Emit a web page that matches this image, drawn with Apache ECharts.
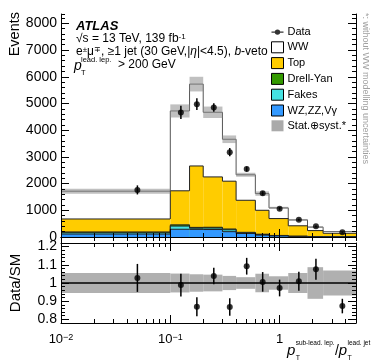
<!DOCTYPE html>
<html>
<head>
<meta charset="utf-8">
<script src="https://cdn.jsdelivr.net/npm/echarts@6/dist/echarts.min.js"></script>
<style>
  html, body { margin: 0; padding: 0; background: #fff; }
  #chart { width: 374px; height: 363px; }
</style>
</head>
<body>
<div id="chart"></div>
<script>
// bin edges of pT(sub-lead. lep.) / pT(lead. jet)
var binEdges = [0, 0.1, 0.15, 0.2, 0.3, 0.4, 0.6, 0.8, 1.2, 1.8, 2.5, 5];
// predictions per bin (events)
var wzVals    = [110, 290, 285, 280, 200, 130, 70, 40, 20, 10, 6];
var fakesVals = [50, 120, 45, 55, 70, 25, 20, 10, 6, 3, 2];
var dyVals    = [30, 45, 30, 30, 30, 20, 15, 8, 4, 2, 1];
var topVals   = [485, 1275, 2300, 1885, 1790, 1200, 895, 632, 390, 225, 131];
var wwVals    = [1040, 2990, 3065, 2420, 1570, 955, 625, 400, 220, 130, 65];
// data
var dataVals  = [1763, 4665, 4975, 4850, 3175, 2545, 1635, 1060, 646, 398, 179];
var dataErr   = [170, 250, 220, 160, 156, 94, 75, 60, 40, 30, 20];
var ratioErr  = [0.077, 0.062, 0.052, 0.046, 0.048, 0.046, 0.054, 0.046, 0.052, 0.058, 0.04];
// relative stat+syst uncertainty of the prediction
var mcRelUnc  = [0.055, 0.052, 0.048, 0.046, 0.039, 0.032, 0.051, 0.037, 0.055, 0.087, 0.069];
// ticks
var eventTicks = [0, 1000, 2000, 3000, 4000, 5000, 6000, 7000, 8000];
var ratioTicks = [0.8, 0.9, 1, 1.1, 1.2];
var xMajorTicks = [0.01, 0.1, 1];
var xMinorTicks = [0.02, 0.03, 0.04, 0.05, 0.06, 0.07, 0.08, 0.09,
                   0.2, 0.3, 0.4, 0.5, 0.6, 0.7, 0.8, 0.9, 2, 3, 4, 5];

var X_MIN = 0.01, X_MAX = 5;
var EV_MAX = 8350, R_MIN = 0.78, R_MAX = 1.22;
var FONT = "'Liberation Sans', Arial, Helvetica, sans-serif";

var nBins = binEdges.length - 1;
var centers = [];
for (var i = 0; i < nBins; i++) centers.push((binEdges[i] + binEdges[i + 1]) / 2);

// cumulative stack, bottom first
var layers = [
  { name: 'WZ,ZZ,V\u03b3', vals: wzVals, color: '#3399ff' },
  { name: 'Fakes', vals: fakesVals, color: '#44e2e2' },
  { name: 'Drell-Yan', vals: dyVals, color: '#339900' },
  { name: 'Top', vals: topVals, color: '#ffcc00' },
  { name: 'WW', vals: wwVals, color: '#ffffff' }
];
var cum = centers.map(function () { return 0; });
layers.forEach(function (l) {
  l.top = cum.map(function (c, i) { return c + l.vals[i]; });
  cum = l.top;
});
var mcTotal = cum;

var chart = echarts.init(document.getElementById('chart'), null, { renderer: 'canvas' });

function binX(api, i) {
  var x0 = api.coord([Math.max(binEdges[i], X_MIN), 1])[0];
  var x1 = api.coord([binEdges[i + 1], 1])[0];
  return [x0, x1];
}

// THStack style: each cumulative histogram filled from zero, biggest first
function stackSeries(l) {
  return {
    name: l.name,
    type: 'custom',
    xAxisIndex: 0, yAxisIndex: 0,
    itemStyle: { color: l.color },
    data: l.top.map(function (v, i) { return [centers[i], v]; }),
    renderItem: function (params, api) {
      var i = params.dataIndex;
      var xs = binX(api, i);
      var y0 = api.coord([1, 0])[1];
      var yt = api.coord([1, l.top[i]])[1];
      var pts = [];
      if (i > 0) pts.push([xs[0], api.coord([1, l.top[i - 1]])[1]]);
      pts.push([xs[0], yt], [xs[1], yt]);
      return {
        type: 'group',
        children: [
          { type: 'rect', shape: { x: xs[0], y: yt, width: xs[1] - xs[0], height: y0 - yt },
            style: { fill: l.color } },
          { type: 'polyline', shape: { points: pts },
            style: { stroke: l.name === 'WW' ? '#555' : '#222', lineWidth: 1, fill: null } }
        ]
      };
    }
  };
}

function bandSeries(name, xi, yi, centerVals, halfVals, color) {
  return {
    name: name,
    type: 'custom',
    xAxisIndex: xi, yAxisIndex: yi,
    itemStyle: { color: color },
    data: centerVals.map(function (v, i) { return [centers[i], v, halfVals[i]]; }),
    renderItem: function (params, api) {
      var i = params.dataIndex;
      var xs = binX(api, i);
      var c = api.value(1), h = api.value(2);
      var ya = api.coord([1, c + h])[1];
      var yb = api.coord([1, c - h])[1];
      return { type: 'rect', shape: { x: xs[0], y: ya, width: xs[1] - xs[0], height: yb - ya },
        style: { fill: color } };
    }
  };
}

function errSeries(name, xi, yi, vals, errs) {
  return {
    name: name,
    type: 'custom',
    xAxisIndex: xi, yAxisIndex: yi,
    z: 4,
    data: vals.map(function (v, i) { return [centers[i], v, errs[i]]; }),
    renderItem: function (params, api) {
      var x = api.value(0), y = api.value(1), e = api.value(2);
      var a = api.coord([x, y - e]), b = api.coord([x, y + e]);
      return { type: 'line', shape: { x1: a[0], y1: a[1], x2: b[0], y2: b[1] },
        style: { stroke: '#000', lineWidth: 1.5 } };
    }
  };
}

var ratioVals = dataVals.map(function (v, i) { return v / mcTotal[i]; });
var mcAbsUnc = mcTotal.map(function (v, i) { return v * mcRelUnc[i]; });
var ones = centers.map(function () { return 1; });

function logLabel(v) {
  var e = Math.round(Math.log(v) / Math.LN10);
  if (e === 0) return '1';
  return '10{sup|' + (e < 0 ? '\u2212' : '') + Math.abs(e) + '}';
}

function xAxesFor(grid, withLabels) {
  function ax(pos, major) {
    return {
      type: 'log', logBase: 10, gridIndex: grid, position: pos,
      min: X_MIN, max: X_MAX, z: 10,
      splitLine: { show: false },
      axisLine: { show: major, lineStyle: { color: '#000', width: 1 } },
      axisTick: { show: true, inside: true, length: major ? 8 : 4,
        customValues: major ? xMajorTicks : xMinorTicks,
        lineStyle: { color: '#000', width: 1 } },
      axisLabel: {
        show: withLabels && major && pos === 'bottom',
        customValues: xMajorTicks,
        formatter: logLabel,
        fontFamily: FONT, fontSize: 13, color: '#000', margin: 10,
        rich: { sup: { fontFamily: FONT, fontSize: 9, verticalAlign: 'top', lineHeight: 9, padding: [0, 0, 6, 0] } }
      }
    };
  }
  return [ax('bottom', true), ax('bottom', false), ax('top', true), ax('top', false)];
}

function yAxesFor(grid, min, max, majors, minorStep) {
  function ax(pos, major) {
    var a = {
      type: 'value', gridIndex: grid, position: pos, min: min, max: max, z: 10,
      splitLine: { show: false },
      axisLine: { show: major, lineStyle: { color: '#000', width: 1 } },
      axisTick: { show: true, inside: true, length: major ? 8 : 4,
        lineStyle: { color: '#000', width: 1 } },
      axisLabel: { show: false }
    };
    if (major) {
      a.axisTick.customValues = majors;
      a.axisLabel = { show: pos === 'left', customValues: majors, fontFamily: FONT,
        fontSize: 14, color: '#000', margin: 4,
        formatter: function (v) { return String(v); } };
    } else {
      a.interval = minorStep;
    }
    return a;
  }
  return [ax('left', true), ax('left', false), ax('right', true), ax('right', false)];
}

var stackOrder = layers.slice().reverse();
var series = stackOrder.map(stackSeries);
series.push(bandSeries('Stat.\u2295syst.*', 0, 0, mcTotal, mcAbsUnc, 'rgba(140,140,140,0.55)'));
series.push(errSeries('dataErr', 0, 0, dataVals, dataErr));
series.push({
  name: 'Data', type: 'scatter', xAxisIndex: 0, yAxisIndex: 0, z: 5,
  symbol: 'circle', symbolSize: 6, itemStyle: { color: '#000' },
  data: dataVals.map(function (v, i) { return [centers[i], v]; })
});
// ratio panel
series.push(bandSeries('ratioBand', 4, 4, ones, mcRelUnc, '#b0b0b0'));
series.push({
  name: 'unity', type: 'line', xAxisIndex: 4, yAxisIndex: 4, z: 3,
  symbol: 'none', lineStyle: { color: '#000', width: 1.5 },
  data: [[X_MIN, 1], [X_MAX, 1]]
});
series.push(errSeries('ratioErr', 4, 4, ratioVals, ratioErr));
series.push({
  name: 'ratio', type: 'scatter', xAxisIndex: 4, yAxisIndex: 4, z: 5,
  symbol: 'circle', symbolSize: 6, itemStyle: { color: '#000' },
  data: ratioVals.map(function (v, i) { return [centers[i], v]; })
});

var dataIcon = 'path://M0,0h0.01v0.01h-0.01z M0,10.99h0.01v0.01h-0.01z M0,5h12v1.2h-12z M8.7,5.6A2.7,2.7 0 1 1 3.3,5.6A2.7,2.7 0 1 1 8.7,5.6z';
var boxStyle = { borderColor: '#000', borderWidth: 1 };

// canvas text measure for hand-placed titles
var mctx = document.createElement('canvas').getContext('2d');
function tw(text, size, style) {
  mctx.font = (style || '') + ' ' + size + 'px ' + FONT;
  return mctx.measureText(text).width;
}

function txt(x, y, text, size, opts) {
  opts = opts || {};
  return {
    type: 'text', x: x, y: y, rotation: opts.rotation || 0, z: 20,
    style: {
      text: text, fill: opts.color || '#000',
      font: (opts.style || '') + ' ' + size + 'px ' + FONT,
      textAlign: opts.align || 'left', textVerticalAlign: opts.valign || 'middle',
      rich: opts.rich
    }
  };
}

var graphics = [];
// ATLAS label block
graphics.push(txt(76, 26, 'ATLAS', 13, { style: 'italic bold' }));
graphics.push(txt(76, 39, '\u221as = 13 TeV, 139 fb{sup|-1}', 12, {
  rich: { sup: { fontSize: 8, fontFamily: FONT, verticalAlign: 'top', padding: [0, 0, 5, 0] } }
}));
graphics.push(txt(76, 52, 'e{sup|\u00b1}\u03bc{sup|\u2213}, \u22651 jet (30 GeV,|{it|\u03b7}|<4.5), {it|b}-veto', 12, {
  rich: {
    sup: { fontSize: 8, fontFamily: FONT, verticalAlign: 'top', padding: [0, 0, 5, 0] },
    it: { fontSize: 12, fontFamily: FONT, fontStyle: 'italic' }
  }
}));
graphics.push(txt(74, 66, 'p', 14, { style: 'italic' }));
graphics.push(txt(81, 59.5, 'lead. lep.', 7.5));
graphics.push(txt(81, 72.5, 'T', 7.5));
graphics.push(txt(118, 65, '> 200 GeV', 12));

// y titles
graphics.push(txt(15, 12, 'Events', 14.5, { rotation: Math.PI / 2, align: 'right' }));
graphics.push(txt(16, 283, 'Data/SM', 15, { rotation: Math.PI / 2, align: 'center' }));

// x title
(function () {
  var x = 287, yb = 351;
  var sup1 = 'sub-lead. lep.', sup2 = 'lead. jet';
  graphics.push(txt(x, yb, 'p', 15, { style: 'italic' }));
  var xs = x + tw('p', 15, 'italic') + 0.3;
  graphics.push(txt(xs, yb + 7, 'T', 7));
  graphics.push(txt(xs, yb - 7.5, sup1, 6.5));
  x = xs + tw(sup1, 6.5) + 0.3;
  graphics.push(txt(x, yb, '/', 14));
  x += tw('/', 14);
  graphics.push(txt(x, yb, 'p', 15, { style: 'italic' }));
  xs = x + tw('p', 15, 'italic') + 0.3;
  graphics.push(txt(xs, yb + 7, 'T', 7));
  graphics.push(txt(xs, yb - 7.5, sup2, 6.5));
})();

// side note
graphics.push(txt(365, 13, '*: without WW modelling uncertainties', 9, {
  rotation: -Math.PI / 2, color: '#a0a0a0'
}));

var option = {
  animation: false,
  backgroundColor: '#fff',
  grid: [
    { left: 61, right: 18, top: 14, height: 223 },
    { left: 61, right: 18, top: 243, height: 80 }
  ],
  xAxis: xAxesFor(0, false).concat(xAxesFor(1, true)),
  yAxis: yAxesFor(0, 0, EV_MAX, eventTicks, 200).concat(yAxesFor(1, R_MIN, R_MAX, ratioTicks, 0.02)),
  legend: {
    orient: 'vertical', left: 271, top: 26.5, padding: 0,
    itemWidth: 12, itemHeight: 11, itemGap: 3.8,
    selectedMode: false,
    textStyle: { fontFamily: FONT, fontSize: 11, color: '#000', lineHeight: 11, padding: [0, 0, 0, -1] },
    data: [
      { name: 'Data', icon: dataIcon, itemStyle: { color: '#000', borderWidth: 0 } },
      { name: 'WW', icon: 'rect', itemStyle: boxStyle },
      { name: 'Top', icon: 'rect', itemStyle: boxStyle },
      { name: 'Drell-Yan', icon: 'rect', itemStyle: boxStyle },
      { name: 'Fakes', icon: 'rect', itemStyle: boxStyle },
      { name: 'WZ,ZZ,V\u03b3', icon: 'rect', itemStyle: boxStyle },
      { name: 'Stat.\u2295syst.*', icon: 'rect', itemStyle: { color: '#aaaaaa', borderWidth: 0 } }
    ]
  },
  graphic: graphics,
  series: series
};

chart.setOption(option);
</script>
</body>
</html>
